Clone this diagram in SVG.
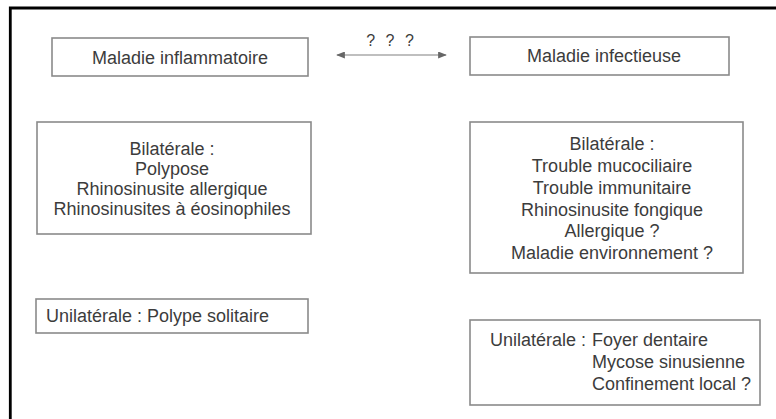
<svg xmlns="http://www.w3.org/2000/svg" width="776" height="419" viewBox="0 0 776 419">
<style>
.box{fill:#fff;stroke:#8a8a8a;stroke-width:1.6}
.t{font-family:"Liberation Sans",Arial,sans-serif;font-size:18px;fill:#3c3c3c}
.c{text-anchor:middle}
.frame{stroke:#000;stroke-width:2.8;fill:none}
.conn{stroke:#808080;stroke-width:1.2;fill:none}
</style>
<defs>
<marker id="ah" viewBox="0 0 10 8" refX="9" refY="4" markerWidth="10" markerHeight="7" markerUnits="userSpaceOnUse" orient="auto-start-reverse">
<path d="M0,0 L10,4 L0,8 Z" fill="#666"/>
</marker>
</defs>
<rect width="776" height="419" fill="#fff"/>
<path class="frame" d="M10.3,419 V8 H776"/>
<g id="n1"><rect class="box" x="52" y="38" width="256" height="38"/><text class="t c" x="180" y="64">Maladie inflammatoire</text></g>
<g id="n2"><rect class="box" x="470" y="37" width="259" height="38"/><text class="t c" x="604" y="62">Maladie infectieuse</text></g>
<g id="connectors">
<line class="conn" x1="337" y1="55" x2="446" y2="55" marker-start="url(#ah)" marker-end="url(#ah)"/>
<text class="t c" x="390" y="46" style="font-size:16px;word-spacing:6px">? ? ?</text>
</g>
<g id="n3"><rect class="box" x="37" y="122" width="274" height="112"/>
<text class="t c"><tspan x="172" y="155">Bilatérale :</tspan><tspan x="172" y="175">Polypose</tspan><tspan x="172" y="195">Rhinosinusite allergique</tspan><tspan x="172" y="215">Rhinosinusites à éosinophiles</tspan></text></g>
<g id="n4"><rect class="box" x="470" y="122" width="273" height="151"/>
<text class="t c"><tspan x="612" y="150">Bilatérale :</tspan><tspan x="612" y="172">Trouble mucociliaire</tspan><tspan x="612" y="194">Trouble immunitaire</tspan><tspan x="612" y="216">Rhinosinusite fongique</tspan><tspan x="612" y="237">Allergique ?</tspan><tspan x="612" y="259">Maladie environnement ?</tspan></text></g>
<g id="n5"><rect class="box" x="36" y="299" width="272" height="34"/><text class="t" x="46" y="322">Unilatérale : Polype solitaire</text></g>
<g id="n6"><rect class="box" x="470" y="320" width="290" height="85"/>
<text class="t" x="490" y="346">Unilatérale :</text>
<text class="t"><tspan x="592" y="346">Foyer dentaire</tspan><tspan x="592" y="368">Mycose sinusienne</tspan><tspan x="592" y="390">Confinement local ?</tspan></text></g>
</svg>
